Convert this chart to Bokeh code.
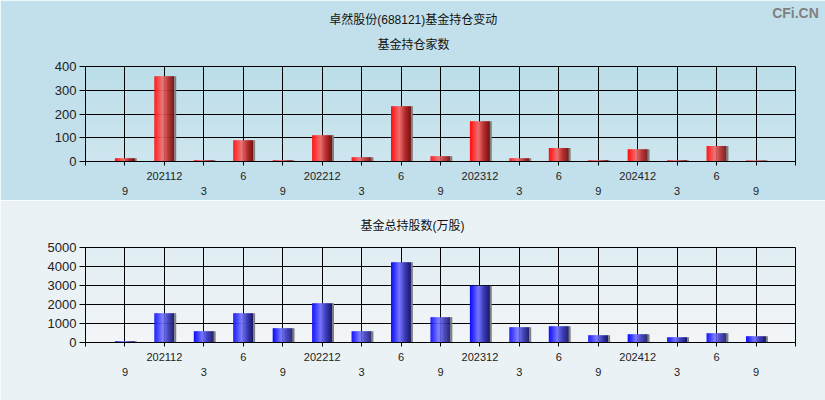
from bokeh.plotting import figure
from bokeh.models import ColumnDataSource, Range1d, FixedTicker, LinearAxis, BoxAnnotation, Title
from bokeh.layouts import column
from bokeh.embed import file_html
from bokeh.resources import INLINE

# ---- data ----
quarters = ["9", "202112", "3", "6", "9", "202212", "3", "6", "9",
            "202312", "3", "6", "9", "202412", "3", "6", "9"]
fund_count = [14, 359, 5, 90, 5, 111, 18, 233, 22, 170, 14, 57, 5, 52, 5, 65, 4]
fund_shares = [70, 1544, 596, 1544, 754, 2070, 596, 4228, 1333, 2982, 807, 860,
               386, 439, 281, 491, 333]
count_ticks = [0, 100, 200, 300, 400]
share_ticks = [0, 1000, 2000, 3000, 4000, 5000]
main_title = "卓然股份(688121)基金持仓变动"
count_title = "基金持仓家数"
share_title = "基金总持股数(万股)"
watermark = "CFi.CN"

FONT = "Liberation Sans, Noto Sans CJK SC"
W, H = 825, 200


def hexc(c):
    return "#%02x%02x%02x" % tuple(int(round(v)) for v in c)


def page_bg(y):
    t = max(0.0, min(1.0, y / 400.0))
    a, b = (173, 216, 230), (255, 250, 250)
    return hexc([a[i] + (b[i] - a[i]) * t for i in range(3)])


def grad(stops, t):
    for (t0, c0), (t1, c1) in zip(stops[:-1], stops[1:]):
        if t0 <= t <= t1:
            f = (t - t0) / (t1 - t0)
            return hexc([c0[i] + (c1[i] - c0[i]) * f for i in range(3)])
    return hexc(stops[-1][1])


RED = [(0.0, (250, 15, 15)), (0.15, (255, 45, 45)), (0.42, (236, 112, 112)),
       (0.7, (185, 45, 45)), (1.0, (115, 18, 18))]
BLUE = [(0.0, (15, 15, 250)), (0.15, (45, 45, 255)), (0.42, (118, 118, 255)),
        (0.7, (60, 60, 185)), (1.0, (25, 25, 105))]


def text_axis(tick, label, standoff, size, style, color):
    return LinearAxis(ticker=FixedTicker(ticks=[tick]),
                      major_label_overrides={tick: label},
                      axis_line_color=None, major_tick_line_color=None,
                      minor_tick_line_color=None, major_tick_in=0, major_tick_out=0,
                      major_label_standoff=standoff, major_label_text_font=FONT,
                      major_label_text_font_size=size,
                      major_label_text_font_style=style,
                      major_label_text_color=color)


def make_fig(values, yticks, stops, page_y0, left, right, top, bottom,
             title, title_standoff, title_offset):
    p = figure(width=W, height=H, output_backend="svg", toolbar_location=None,
               x_range=Range1d(-1, 17), y_range=Range1d(yticks[0], yticks[-1]),
               min_border_left=left, min_border_right=right,
               min_border_top=top, min_border_bottom=bottom,
               background_fill_color=page_bg(page_y0 + top + 48),
               border_fill_color=page_bg(page_y0 + 100),
               outline_line_color="black", outline_line_width=1)
    # background gradient bands inside the plot area
    step = 3
    fb = H - bottom
    for y in range(top + 1, fb - 1, step):
        p.add_layout(BoxAnnotation(left=left + 1, right=W - right - 1,
                                   top=y, bottom=min(y + step + 1, fb - 1),
                                   left_units="canvas", right_units="canvas",
                                   top_units="canvas", bottom_units="canvas",
                                   fill_color=page_bg(page_y0 + y + step / 2),
                                   fill_alpha=1, line_color=None, level="image"))
    # bars with horizontal gradient
    n = 20
    bw = 0.5
    xs, tops, cols, ws = [], [], [], []
    for i, v in enumerate(values):
        for k in range(n):
            t = (k + 0.5) / n
            xs.append(i - bw / 2 + bw * t)
            tops.append(v)
            cols.append(grad(stops, t))
            ws.append(bw / n * 1.4)
        xs.append(i + bw / 2 + 0.025)
        tops.append(v)
        cols.append("#7f7f7f")
        ws.append(0.05)
    src = ColumnDataSource(dict(x=xs, top=tops, color=cols, w=ws))
    p.vbar(x="x", top="top", bottom=0, width="w", source=src,
           fill_color="color", line_color=None)

    # axes
    ax = p.xaxis[0]
    ax.ticker = FixedTicker(ticks=list(range(-1, 18)))
    ov = {i: (quarters[i] if i % 2 == 1 else "") for i in range(len(quarters))}
    ov[-1] = ""
    ov[17] = ""
    ax.major_label_overrides = ov
    ax.major_tick_in = 0
    ax.major_tick_out = 4
    ax.minor_tick_line_color = None
    ax.major_label_standoff = 6
    ax.major_label_text_font = FONT
    ax.major_label_text_font_size = "11px"
    ax.major_label_text_color = "#222222"
    ax.axis_line_color = "black"
    ax.major_tick_line_color = "black"

    ax2 = LinearAxis(ticker=FixedTicker(ticks=list(range(0, 17, 2))),
                     major_label_overrides={i: quarters[i] for i in range(0, 17, 2)},
                     axis_line_color=None, major_tick_line_color=None,
                     minor_tick_line_color=None, major_tick_in=0, major_tick_out=0,
                     major_label_standoff=4, major_label_text_font=FONT,
                     major_label_text_font_size="11px", major_label_text_color="#222222")
    p.add_layout(ax2, "below")

    ya = p.yaxis[0]
    ya.ticker = FixedTicker(ticks=yticks)
    ya.major_tick_in = 0
    ya.major_tick_out = 6
    ya.minor_tick_line_color = None
    ya.major_label_standoff = 3
    ya.major_label_text_font = FONT
    ya.major_label_text_font_size = "13px"
    ya.major_label_text_color = "#222222"
    ya.axis_line_color = "black"

    p.xgrid.ticker = FixedTicker(ticks=list(range(0, 17)))
    p.ygrid.ticker = FixedTicker(ticks=yticks)
    for g in (p.xgrid[0], p.ygrid[0]):
        g.grid_line_color = "black"
        g.grid_line_width = 1
        g.grid_line_alpha = 1

    p.add_layout(Title(text=title, align="left", offset=title_offset,
                       standoff=title_standoff, text_font=FONT,
                       text_font_size="12px", text_font_style="normal",
                       text_color="#111111"), "above")
    return p


p1 = make_fig(fund_count, count_ticks, RED, 0, 76, 30, 66, 39,
              count_title, 29, 292)
p1.add_layout(text_axis(7.31, main_title, -5, "12px", "normal", "#111111"), "above")
p1.add_layout(text_axis(17, watermark, -11, "14px", "bold", "#808080"), "above")
p2 = make_fig(fund_shares, share_ticks, BLUE, 200, 85, 30, 47, 58,
              share_title, 29, 275)

layout = column(p1, p2, spacing=0)
open("out.html", "w").write(file_html(layout, INLINE))
